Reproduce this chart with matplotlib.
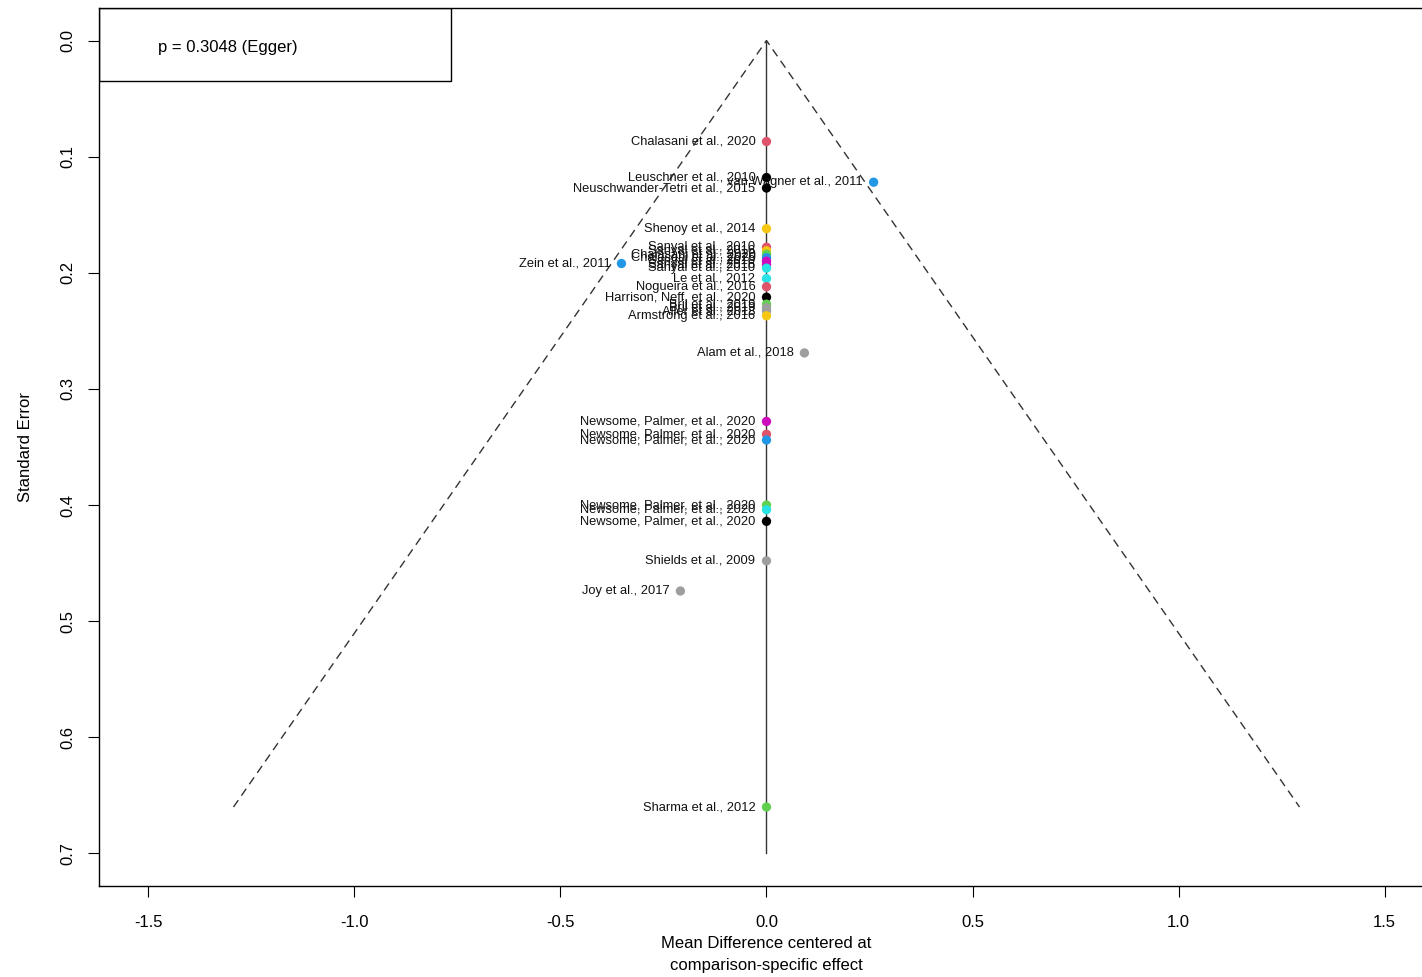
import numpy as np
import matplotlib
matplotlib.use("Agg")
import matplotlib.pyplot as plt

plt.rcParams['font.family'] = ['Liberation Sans', 'DejaVu Sans']

# study labels, centred mean differences, standard errors, comparison group
studies = ["Chalasani et al., 2020", "Leuschner et al., 2010", "Neuschwander-Tetri et al., 2015",
           "van Wagner et al., 2011", "Shenoy et al., 2014", "Sanyal et al., 2010",
           "Sanyal et al., 2016", "Chalasani et al., 2020", "Chalasani et al., 2020",
           "Sanyal et al., 2010", "Sanyal et al., 2016", "Sanyal et al., 2010",
           "Zein et al., 2011", "Le et al., 2012", "Nogueira et al., 2016",
           "Harrison, Neff, et al., 2020", "Bril et al., 2019", "Bril et al., 2019",
           "Aller et al., 2018", "Armstrong et al., 2016", "Alam et al., 2018",
           "Newsome, Palmer, et al., 2020", "Newsome, Palmer, et al., 2020",
           "Newsome, Palmer, et al., 2020", "Newsome, Palmer, et al., 2020",
           "Newsome, Palmer, et al., 2020", "Newsome, Palmer, et al., 2020",
           "Shields et al., 2009", "Joy et al., 2017", "Sharma et al., 2012"]
effect = [0.0, 0.0, 0.0, 0.26, 0.0, 0.0, 0.0, 0.0, 0.0, 0.0, 0.0, 0.0,
          -0.352, 0.0, 0.0, 0.0, 0.0, 0.0, 0.0, 0.0, 0.092,
          0.0, 0.0, 0.0, 0.0, 0.0, 0.0, 0.0, -0.209, 0.0]
se = [0.087, 0.118, 0.127, 0.122, 0.162, 0.178, 0.181, 0.184, 0.187, 0.190, 0.193, 0.196,
      0.192, 0.205, 0.212, 0.221, 0.227, 0.230, 0.233, 0.237, 0.269,
      0.328, 0.339, 0.344, 0.400, 0.404, 0.414, 0.448, 0.474, 0.660]
group = [1, 0, 0, 3, 6, 1, 6, 2, 3, 5, 5, 4,
         3, 4, 1, 0, 2, 7, 7, 6, 7,
         5, 1, 3, 2, 4, 0, 7, 7, 2]

egger_p = 0.3048

palette = ["black", "#DF536B", "#61D04F", "#2297E6", "#28E2E5", "#CD0BBC", "#F5C710", "#9E9E9E"]

fig = plt.figure(figsize=(14.22, 9.77), dpi=100)
ax = fig.add_axes([99 / 1422, (977 - 886) / 977, (1434 - 99) / 1422, (886 - 8) / 977])

# funnel and reference line
se_max = max(se)
ax.plot([-1.96 * se_max, 0, 1.96 * se_max], [se_max, 0, se_max], ls=(0, (6, 4)), color='#333333', lw=1)
ax.plot([0, 0], [0, 0.7], color='#333333', lw=1)

cols = [palette[g] for g in group]
ax.scatter(effect, se, c=cols, s=45, zorder=3, linewidths=0)
for name, x, y in zip(studies, effect, se):
    ax.annotate(name, (x, y), xytext=(-11, 0), textcoords='offset pixels',
                ha='right', va='center', fontsize=9.3, color='#111111')

ax.set_xlim(-1.62, 1.62)
ax.set_ylim(0.728, -0.028)
ax.set_xticks(np.arange(-1.5, 1.51, 0.5))
ax.set_yticks(np.arange(0, 0.71, 0.1))
ax.set_xticklabels([f"{v:.1f}" for v in np.arange(-1.5, 1.51, 0.5)], fontsize=12)
ax.set_yticklabels([f"{v:.1f}" for v in np.arange(0, 0.71, 0.1)], fontsize=12, rotation=90, va='center')
ax.tick_params(length=8, width=0.8)
ax.tick_params(axis='y', pad=9)
ax.tick_params(axis='x', pad=13)
for s in ax.spines.values():
    s.set_linewidth(1)
ax.set_xlabel("Mean Difference centered at\ncomparison-specific effect", fontsize=12, labelpad=4,
              linespacing=1.6)
ax.set_ylabel("Standard Error", fontsize=12, labelpad=20)

# Egger test box
ax.text(0.044, 0.955, f"p = {egger_p} (Egger)", transform=ax.transAxes, fontsize=12, va='center')
box = plt.Rectangle((0, 0.9165), (451 - 99) / (1434 - 99), 1 - 0.9165, transform=ax.transAxes,
                    fill=False, lw=1, color='black')
ax.add_patch(box)

fig.savefig("out.png", dpi=100)
